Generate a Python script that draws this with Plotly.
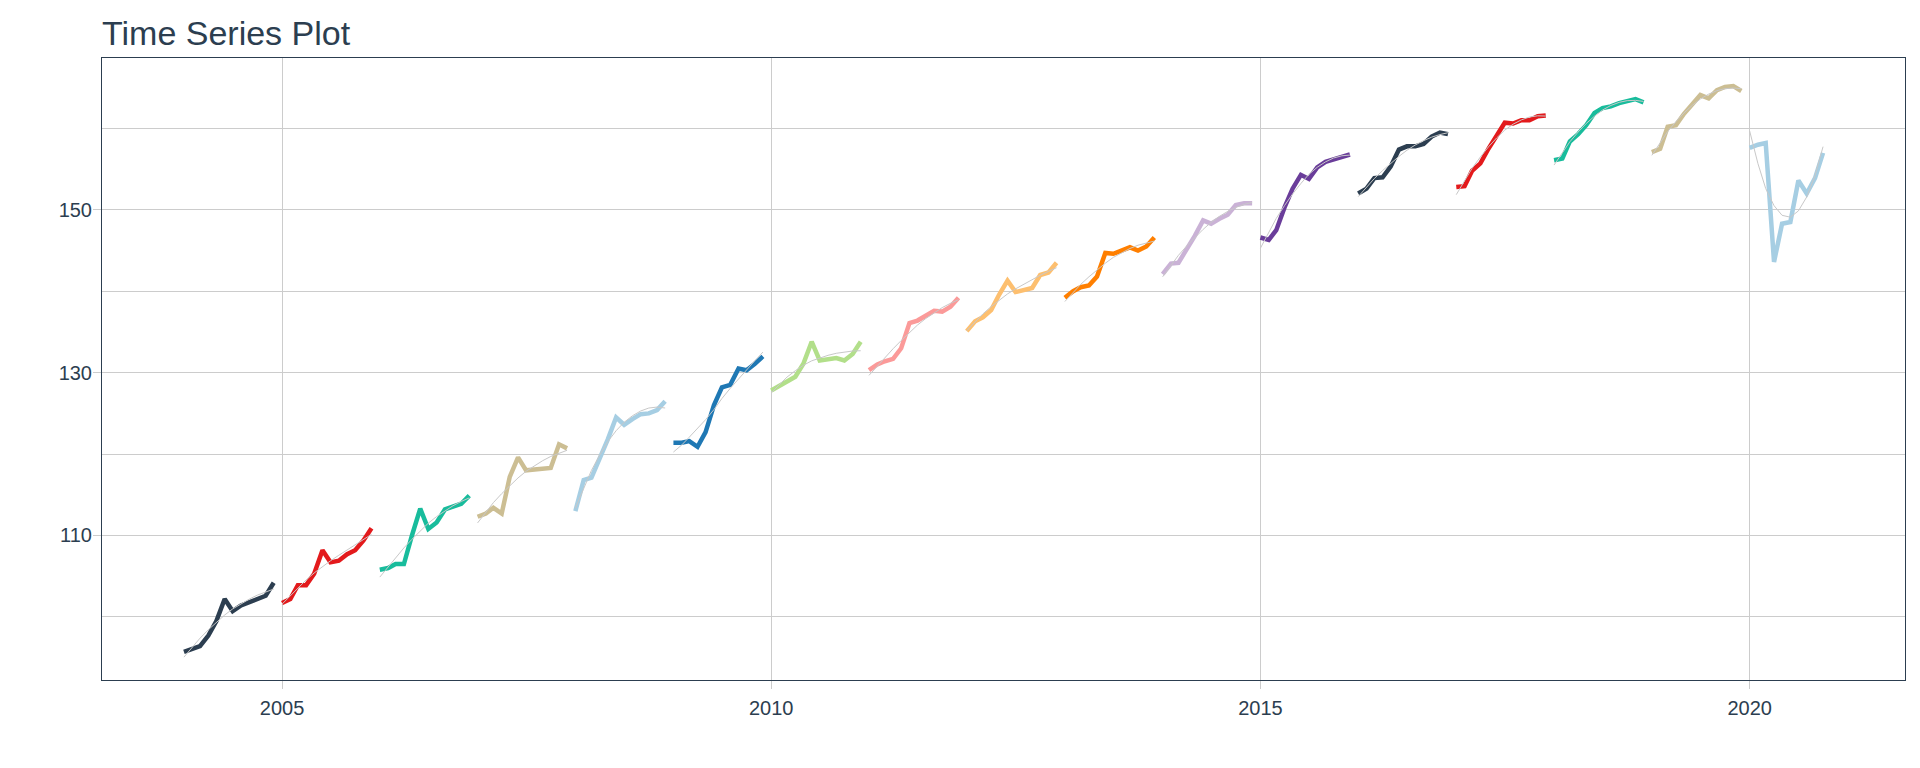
import numpy as np
import pandas as pd
import plotly.graph_objects as go

# ---- data (monthly values, one list per year) ----
years = list(range(2004, 2021))
v2004 = [95.7, 96.1, 96.4, 97.7, 99.5, 102.2, 100.7, 101.4, 101.8, 102.1, 102.6, 104.2]
v2005 = [101.7, 102.2, 103.9, 103.9, 105.3, 108.2, 106.7, 106.9, 107.7, 108.2, 109.4, 110.9]
v2006 = [105.8, 106.0, 106.5, 106.5, 110.0, 113.3, 110.8, 111.6, 113.2, 113.5, 113.9, 114.9]
v2007 = [112.3, 112.7, 113.4, 112.7, 117.2, 119.6, 118.0, 118.1, 118.2, 118.3, 121.2, 120.7]
v2008 = [113.0, 116.8, 117.1, 119.4, 121.8, 124.5, 123.6, 124.3, 124.9, 125.0, 125.4, 126.5]
v2009 = [121.4, 121.4, 121.6, 120.9, 122.7, 126.0, 128.2, 128.5, 130.5, 130.3, 131.1, 132.0]
v2010 = [127.8, 128.4, 129.0, 129.5, 131.1, 133.8, 131.5, 131.6, 131.8, 131.5, 132.3, 133.8]
v2011 = [130.3, 131.0, 131.4, 131.7, 133.0, 136.1, 136.4, 137.0, 137.6, 137.5, 138.1, 139.2]
v2012 = [135.1, 136.3, 136.8, 137.7, 139.6, 141.3, 139.9, 140.2, 140.4, 142.0, 142.3, 143.5]
v2013 = [139.2, 140.0, 140.5, 140.7, 141.8, 144.7, 144.6, 145.0, 145.4, 145.0, 145.5, 146.6]
v2014 = [142.1, 143.4, 143.5, 145.1, 146.8, 148.7, 148.3, 148.9, 149.4, 150.6, 150.8, 150.8]
v2015 = [146.6, 146.3, 147.5, 150.3, 152.6, 154.3, 153.8, 155.2, 155.9, 156.2, 156.6, 156.8]
v2016 = [152.0, 152.6, 153.9, 154.0, 155.3, 157.4, 157.8, 157.8, 158.1, 159.0, 159.5, 159.3]
v2017 = [152.8, 152.9, 154.8, 155.7, 157.5, 159.1, 160.7, 160.6, 161.0, 161.0, 161.5, 161.6]
v2018 = [156.1, 156.3, 158.4, 159.3, 160.4, 161.9, 162.5, 162.7, 163.1, 163.4, 163.6, 163.2]
v2019 = [157.1, 157.5, 160.2, 160.4, 161.8, 162.9, 164.1, 163.7, 164.7, 165.1, 165.2, 164.6]
v2020 = [157.6, 158.0, 158.2, 143.6, 148.3, 148.5, 153.6, 152.0, 153.9, 157.0]
values_by_year = [v2004, v2005, v2006, v2007, v2008, v2009, v2010, v2011, v2012,
                  v2013, v2014, v2015, v2016, v2017, v2018, v2019, v2020]

palette = ["#2c3e50", "#e31a1c", "#18BC9C", "#CCBE93", "#a6cee3", "#1f78b4",
           "#b2df8a", "#fb9a99", "#fdbf6f", "#ff7f00", "#cab2d6", "#6a3d9a"]

x_tick_labels = ["2005", "2010", "2015", "2020"]
y_tick_values = [110, 130, 150]
smooth_period_months = 18


def loess(y, span, degree=2):
    """Local polynomial regression (tricube weights), like R's loess."""
    y = np.asarray(y, dtype=float)
    n = len(y)
    x = np.arange(n, dtype=float)
    out = np.empty(n)
    for i, x0 in enumerate(x):
        d = np.abs(x - x0)
        if span < 1:
            q = max(int(np.floor(span * n)), degree + 1)
            h = np.sort(d)[q - 1]
        else:
            h = d.max() * span
        w = np.clip(1 - (d / h) ** 3, 0, None) ** 3
        X = np.vander(x - x0, degree + 1, increasing=True)
        Wm = np.diag(w)
        beta = np.linalg.lstsq(X.T @ Wm @ X, X.T @ Wm @ y, rcond=None)[0]
        out[i] = beta[0]
    return out


fig = go.Figure()
all_dates = []
for k, (yr, vals) in enumerate(zip(years, values_by_year)):
    dates = pd.date_range(f"{yr}-01-01", periods=len(vals), freq="MS")
    all_dates.extend(dates)
    fig.add_trace(go.Scatter(x=dates, y=vals, mode="lines",
                             line=dict(color=palette[k % len(palette)], width=4.5),
                             showlegend=False, hoverinfo="x+y"))
for k, (yr, vals) in enumerate(zip(years, values_by_year)):
    dates = pd.date_range(f"{yr}-01-01", periods=len(vals), freq="MS")
    sm = loess(vals, span=smooth_period_months / len(vals))
    fig.add_trace(go.Scatter(x=dates, y=sm, mode="lines",
                             line=dict(color="#c8c8c8", width=1),
                             showlegend=False, hoverinfo="skip"))

start, end = min(all_dates), max(all_dates)
span = end - start
xr = [start - 0.05 * span, end + 0.05 * span]

grid = "#cccccc"
navy = "#2c3e50"
W, H = 1904, 752  # page body adds an 8px margin on each side
fig.update_layout(
    width=W, height=H,
    margin=dict(l=94, r=7, t=50, b=80),
    paper_bgcolor="white", plot_bgcolor="white",
    font=dict(family="Liberation Sans, Arial, sans-serif", color=navy),
    title=dict(text="Time Series Plot", x=94 / W, xanchor="left", xref="container",
               yref="container", y=1 - 25 / H, yanchor="middle",
               font=dict(size=34, color=navy)),
    xaxis=dict(range=xr, tickvals=[pd.Timestamp(f"{t}-01-01") for t in x_tick_labels],
               ticktext=x_tick_labels, showgrid=True, gridcolor=grid, gridwidth=1,
               ticks="outside", ticklen=8, tickcolor=grid, tickwidth=1,
               ticklabelstandoff=2,
               tickfont=dict(size=20, color=navy), zeroline=False,
               showline=True, linecolor=navy, linewidth=1, mirror=True),
    yaxis=dict(range=[92.25, 168.65], tickvals=y_tick_values,
               ticktext=[str(v) for v in y_tick_values],
               showgrid=True, gridcolor=grid, gridwidth=1,
               minor=dict(tickvals=[100, 120, 140, 160], showgrid=True,
                          gridcolor=grid, gridwidth=1, ticks=""),
               ticks="outside", ticklen=8, tickcolor=grid, tickwidth=1,
               ticklabelstandoff=-3,
               tickfont=dict(size=20, color=navy), zeroline=False,
               showline=True, linecolor=navy, linewidth=1, mirror=True),
)

fig.write_html("out.html")
